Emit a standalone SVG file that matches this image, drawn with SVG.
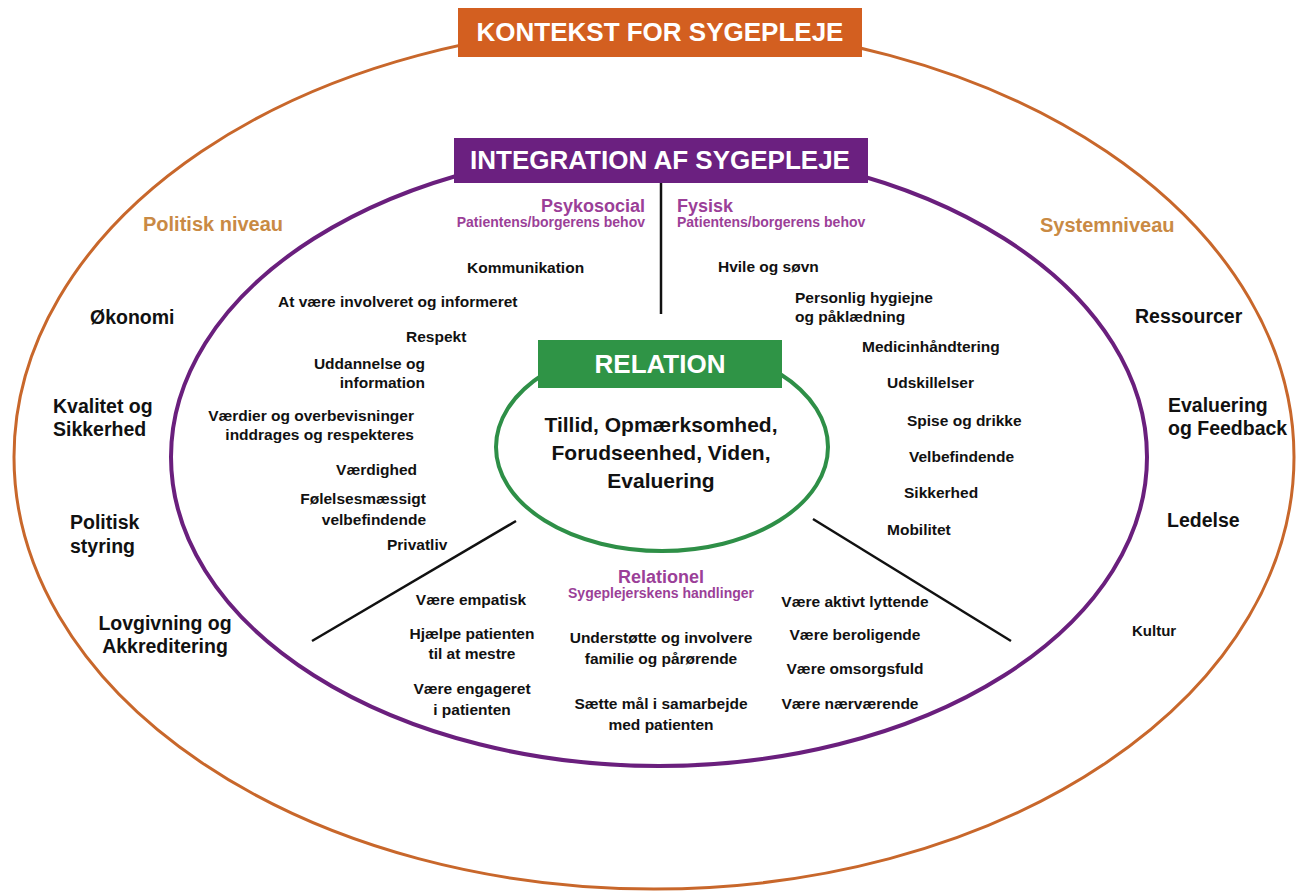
<svg xmlns="http://www.w3.org/2000/svg" width="1296" height="891" viewBox="0 0 1296 891">
<style>
text{font-family:"Liberation Sans",Arial,"Noto Sans",sans-serif;font-weight:bold;}
.ban{fill:#ffffff;font-size:26px;text-anchor:middle;}
.lvl{fill:#C98A44;font-size:20px;}
.out{fill:#111111;font-size:19.5px;}
.in{fill:#111111;font-size:15.5px;}
.hd{fill:#9B3F98;font-size:18px;}
.sub{fill:#9B3F98;font-size:14px;}
.ctr{fill:#111111;font-size:21px;text-anchor:middle;}
.e{text-anchor:end;}
.m{text-anchor:middle;}
.sep{stroke:#111111;stroke-width:2.5;fill:none;}
</style>
<rect x="0" y="0" width="1296" height="891" fill="#ffffff"/>

<g id="kontekst">
<ellipse cx="654" cy="457" rx="640" ry="432" fill="none" stroke="#C8672B" stroke-width="3"/>
<rect x="458" y="8" width="404" height="49" fill="#D35F20"/>
<text class="ban" x="660" y="41">KONTEKST FOR SYGEPLEJE</text>
</g>

<g id="integration">
<ellipse cx="659" cy="457" rx="488" ry="309" fill="none" stroke="#6A1F7D" stroke-width="4"/>
<rect x="454" y="138" width="414" height="45" fill="#6B2080"/>
<text class="ban" x="660" y="169">INTEGRATION AF SYGEPLEJE</text>
</g>

<g id="relation">
<ellipse cx="662" cy="447" rx="166" ry="104" fill="none" stroke="#2E8F47" stroke-width="4"/>
<rect x="538" y="340" width="244" height="48" fill="#2F9446"/>
<text class="ban" x="660" y="373">RELATION</text>
<text class="ctr" x="661" y="432">Tillid, Opmærksomhed,</text>
<text class="ctr" x="661" y="460">Forudseenhed, Viden,</text>
<text class="ctr" x="661" y="488">Evaluering</text>
</g>

<g id="connectors">
<line class="sep" x1="661" y1="183" x2="661" y2="314"/>
<line class="sep" x1="516" y1="521" x2="312" y2="641"/>
<line class="sep" x1="813" y1="519" x2="1011" y2="641"/>
</g>

<g id="politisk-niveau">
<text class="lvl" x="143" y="231">Politisk niveau</text>
<text class="out" x="90" y="324">Økonomi</text>
<text class="out" x="53" y="413">Kvalitet og</text>
<text class="out" x="53" y="436">Sikkerhed</text>
<text class="out" x="70" y="529">Politisk</text>
<text class="out" x="70" y="553">styring</text>
<text class="out m" x="165" y="630">Lovgivning og</text>
<text class="out m" x="165" y="653">Akkreditering</text>
</g>

<g id="systemniveau">
<text class="lvl" x="1040" y="232">Systemniveau</text>
<text class="out" x="1135" y="323">Ressourcer</text>
<text class="out" x="1168" y="412">Evaluering</text>
<text class="out" x="1168" y="435">og Feedback</text>
<text class="out" x="1167" y="527">Ledelse</text>
<text class="out" x="1132" y="636" style="font-size:15px">Kultur</text>
</g>

<g id="psykosocial">
<text class="hd e" x="645" y="212">Psykosocial</text>
<text class="sub e" x="645" y="227">Patientens/borgerens behov</text>
<text class="in" x="467" y="273">Kommunikation</text>
<text class="in" x="278" y="307">At være involveret og informeret</text>
<text class="in" x="406" y="342">Respekt</text>
<text class="in e" x="425" y="369">Uddannelse og</text>
<text class="in e" x="425" y="388">information</text>
<text class="in e" x="414" y="421">Værdier og overbevisninger</text>
<text class="in e" x="414" y="440">inddrages og respekteres</text>
<text class="in e" x="417" y="475">Værdighed</text>
<text class="in e" x="426" y="504">Følelsesmæssigt</text>
<text class="in e" x="426" y="525">velbefindende</text>
<text class="in" x="387" y="550">Privatliv</text>
</g>

<g id="fysisk">
<text class="hd" x="677" y="212">Fysisk</text>
<text class="sub" x="677" y="227">Patientens/borgerens behov</text>
<text class="in" x="718" y="272">Hvile og søvn</text>
<text class="in" x="795" y="303">Personlig hygiejne</text>
<text class="in" x="795" y="322">og påklædning</text>
<text class="in" x="862" y="352">Medicinhåndtering</text>
<text class="in" x="887" y="388">Udskillelser</text>
<text class="in" x="907" y="426">Spise og drikke</text>
<text class="in" x="909" y="462">Velbefindende</text>
<text class="in" x="904" y="498">Sikkerhed</text>
<text class="in" x="887" y="535">Mobilitet</text>
</g>

<g id="relationel">
<text class="hd m" x="661" y="583">Relationel</text>
<text class="sub m" x="661" y="598">Sygeplejerskens handlinger</text>
<text class="in m" x="471" y="605">Være empatisk</text>
<text class="in m" x="472" y="639">Hjælpe patienten</text>
<text class="in m" x="472" y="659">til at mestre</text>
<text class="in m" x="472" y="694">Være engageret</text>
<text class="in m" x="472" y="715">i patienten</text>
<text class="in m" x="661" y="643">Understøtte og involvere</text>
<text class="in m" x="661" y="664">familie og pårørende</text>
<text class="in m" x="661" y="709">Sætte mål i samarbejde</text>
<text class="in m" x="661" y="730">med patienten</text>
<text class="in m" x="855" y="607">Være aktivt lyttende</text>
<text class="in m" x="855" y="640">Være beroligende</text>
<text class="in m" x="855" y="674">Være omsorgsfuld</text>
<text class="in m" x="850" y="709">Være nærværende</text>
</g>
</svg>
